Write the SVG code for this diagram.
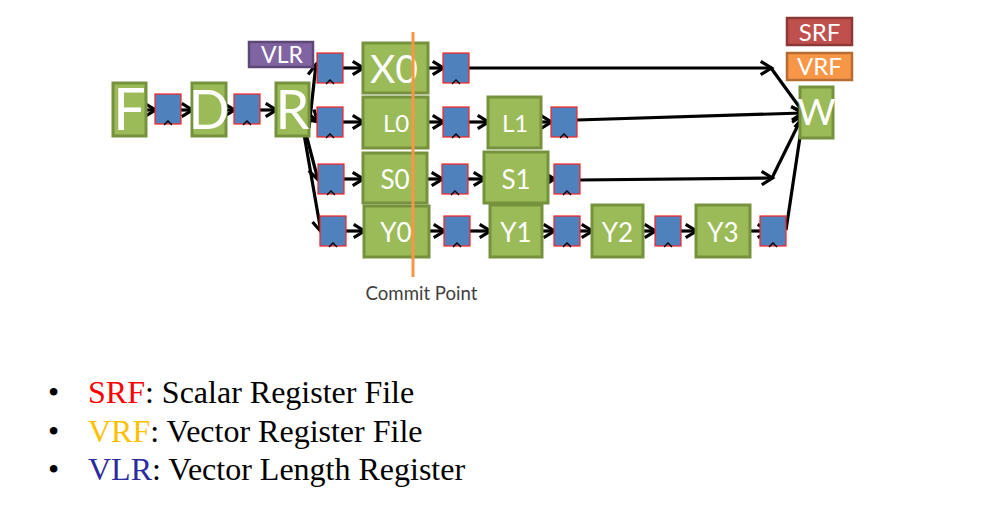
<svg xmlns="http://www.w3.org/2000/svg" width="1007" height="529" viewBox="0 0 1007 529">
<defs>
<style>
.st{fill:#9BBB59;stroke:#76923C;stroke-width:3}
.rg{fill:#4F81BD;stroke:#FF2020;stroke-width:1.2}
.ck{fill:none;stroke:#000;stroke-width:1.3}
.bt{font-family:Lato,"Open Sans",sans-serif;fill:#fff;text-anchor:middle}
.ar{fill:none;stroke:#000;stroke-width:3.2;marker-end:url(#ah)}
.bl{font-family:"Liberation Serif","Times New Roman",serif;font-size:32px;fill:#000}
</style>
<marker id="ah" viewBox="0 0 10 10" refX="8.3" refY="5" markerWidth="5.2" markerHeight="5.2" orient="auto" markerUnits="strokeWidth">
<path d="M1.5,1 L8,5 L1.5,9" fill="none" stroke="#000" stroke-width="1.9"/>
</marker>
<g id="reg">
<rect class="rg" x="0" y="0" width="26" height="30"/>
<path class="ck" d="M9,31 L13,27 L17,31"/>
</g>
</defs>
<rect width="1007" height="529" fill="#fff"/>

<g id="connectors">
<line class="ar" x1="146" y1="110" x2="156" y2="110"/>
<line class="ar" x1="181" y1="110" x2="193" y2="110"/>
<line class="ar" x1="226" y1="110" x2="235" y2="110"/>
<line class="ar" x1="259" y1="110" x2="277" y2="110"/>
<line class="ar" x1="309" y1="128" x2="316" y2="64"/>
<line class="ar" x1="309" y1="114" x2="318" y2="122"/>
<line class="ar" x1="306" y1="134" x2="318" y2="180"/>
<line class="ar" x1="304" y1="134" x2="321" y2="232"/>

<line class="ar" x1="343" y1="68" x2="364" y2="68"/>
<line class="ar" x1="428" y1="68" x2="444" y2="68"/>
<line class="ar" x1="468" y1="68" x2="772" y2="68"/>
<line class="ar" x1="771" y1="68" x2="803" y2="112"/>

<line class="ar" x1="343" y1="122" x2="364" y2="122"/>
<line class="ar" x1="428" y1="122" x2="444" y2="122"/>
<line class="ar" x1="468" y1="122" x2="489" y2="122"/>
<line class="ar" x1="541" y1="122" x2="552" y2="122"/>
<line class="ar" x1="577" y1="120" x2="803" y2="113"/>

<line class="ar" x1="343" y1="179" x2="364" y2="179"/>
<line class="ar" x1="427" y1="179" x2="443" y2="179"/>
<line class="ar" x1="468" y1="179" x2="485" y2="179"/>
<line class="ar" x1="548" y1="179" x2="555" y2="179"/>
<line class="ar" x1="579" y1="180" x2="773" y2="178"/>
<line class="ar" x1="772" y1="178" x2="803" y2="115"/>

<line class="ar" x1="346" y1="231" x2="365" y2="231"/>
<line class="ar" x1="429" y1="231" x2="445" y2="231"/>
<line class="ar" x1="470" y1="231" x2="491" y2="231"/>
<line class="ar" x1="542" y1="231" x2="555" y2="231"/>
<line class="ar" x1="579" y1="231" x2="593" y2="231"/>
<line class="ar" x1="643" y1="231" x2="656" y2="231"/>
<line class="ar" x1="681" y1="231" x2="697" y2="231"/>
<line class="ar" x1="750" y1="231" x2="769" y2="231"/>
<line class="ar" x1="786" y1="230" x2="803" y2="117"/>
</g>

<g id="F"><rect class="st" x="113" y="83" width="33" height="53"/><text class="bt" x="129.5" y="130" font-size="58">F</text></g>
<g id="reg-F"><use href="#reg" x="155" y="94"/></g>
<g id="D"><rect class="st" x="192" y="83" width="34" height="53"/><text class="bt" x="209" y="129" font-size="54">D</text></g>
<g id="reg-D"><use href="#reg" x="234" y="94"/></g>
<g id="R"><rect class="st" x="276" y="83" width="33" height="53"/><text class="bt" x="292.5" y="129" font-size="54">R</text></g>
<g id="VLR"><rect x="249" y="42" width="64" height="25" fill="#8064A2" stroke="#5C4776" stroke-width="2.5"/><text class="bt" x="282" y="63" font-size="23">VLR</text></g>

<g id="reg-X0in"><use href="#reg" x="317" y="53"/></g>
<g id="X0"><rect class="st" x="363" y="43" width="65" height="50"/><text class="bt" x="394" y="83" font-size="39">X0</text></g>
<g id="reg-X0out"><use href="#reg" x="443" y="53"/></g>

<g id="reg-L0in"><use href="#reg" x="317" y="107"/></g>
<g id="L0"><rect class="st" x="363" y="97" width="65" height="51"/><text class="bt" x="396" y="132" font-size="24">L0</text></g>
<g id="reg-L0out"><use href="#reg" x="443" y="107"/></g>
<g id="L1"><rect class="st" x="488" y="97" width="53" height="51"/><text class="bt" x="515" y="132" font-size="24">L1</text></g>
<g id="reg-L1out"><use href="#reg" x="551" y="107"/></g>

<g id="reg-S0in"><use href="#reg" x="318" y="164"/></g>
<g id="S0"><rect class="st" x="363" y="153" width="64" height="50"/><text class="bt" x="395" y="189" font-size="26">S0</text></g>
<g id="reg-S0out"><use href="#reg" x="442" y="164"/></g>
<g id="S1"><rect class="st" x="484" y="152" width="64" height="51"/><text class="bt" x="516" y="189" font-size="26">S1</text></g>
<g id="reg-S1out"><use href="#reg" x="554" y="164"/></g>

<g id="reg-Y0in"><use href="#reg" x="320" y="216"/></g>
<g id="Y0"><rect class="st" x="364" y="206" width="65" height="51"/><text class="bt" x="396" y="242" font-size="26">Y0</text></g>
<g id="reg-Y0out"><use href="#reg" x="444" y="216"/></g>
<g id="Y1"><rect class="st" x="490" y="205" width="52" height="52"/><text class="bt" x="516" y="242" font-size="26">Y1</text></g>
<g id="reg-Y1out"><use href="#reg" x="554" y="216"/></g>
<g id="Y2"><rect class="st" x="592" y="205" width="51" height="52"/><text class="bt" x="617.5" y="242" font-size="26">Y2</text></g>
<g id="reg-Y2out"><use href="#reg" x="655" y="216"/></g>
<g id="Y3"><rect class="st" x="696" y="205" width="54" height="52"/><text class="bt" x="723" y="242" font-size="26">Y3</text></g>
<g id="reg-Y3out"><use href="#reg" x="760" y="216"/></g>

<g id="SRF"><rect x="787" y="18" width="65" height="27" fill="#C0504D" stroke="#8C3836" stroke-width="2.5"/><text class="bt" x="819.5" y="41" font-size="24">SRF</text></g>
<g id="VRF"><rect x="787" y="53" width="65" height="27" fill="#F79646" stroke="#B66D31" stroke-width="2.5"/><text class="bt" x="819.5" y="75" font-size="24">VRF</text></g>
<g id="W"><rect class="st" x="800" y="87" width="33" height="51"/><text class="bt" x="816.5" y="125" font-size="37">W</text></g>

<g id="commit">
<line x1="413" y1="32" x2="413" y2="277" stroke="#F79646" stroke-width="3"/>
<text x="421.5" y="300" font-family="Lato,'Open Sans',sans-serif" font-size="18.6" fill="#404040" text-anchor="middle">Commit Point</text>
</g>

<g id="legend">
<text class="bl" x="48" y="403">•</text>
<text class="bl" x="88" y="403"><tspan fill="#FF0000">SRF</tspan>: Scalar Register File</text>
<text class="bl" x="48" y="442">•</text>
<text class="bl" x="88" y="442"><tspan fill="#FFC000">VRF</tspan>: Vector Register File</text>
<text class="bl" x="48" y="480">•</text>
<text class="bl" x="88" y="480"><tspan fill="#2B2B9E">VLR</tspan>: Vector Length Register</text>
</g>
</svg>
